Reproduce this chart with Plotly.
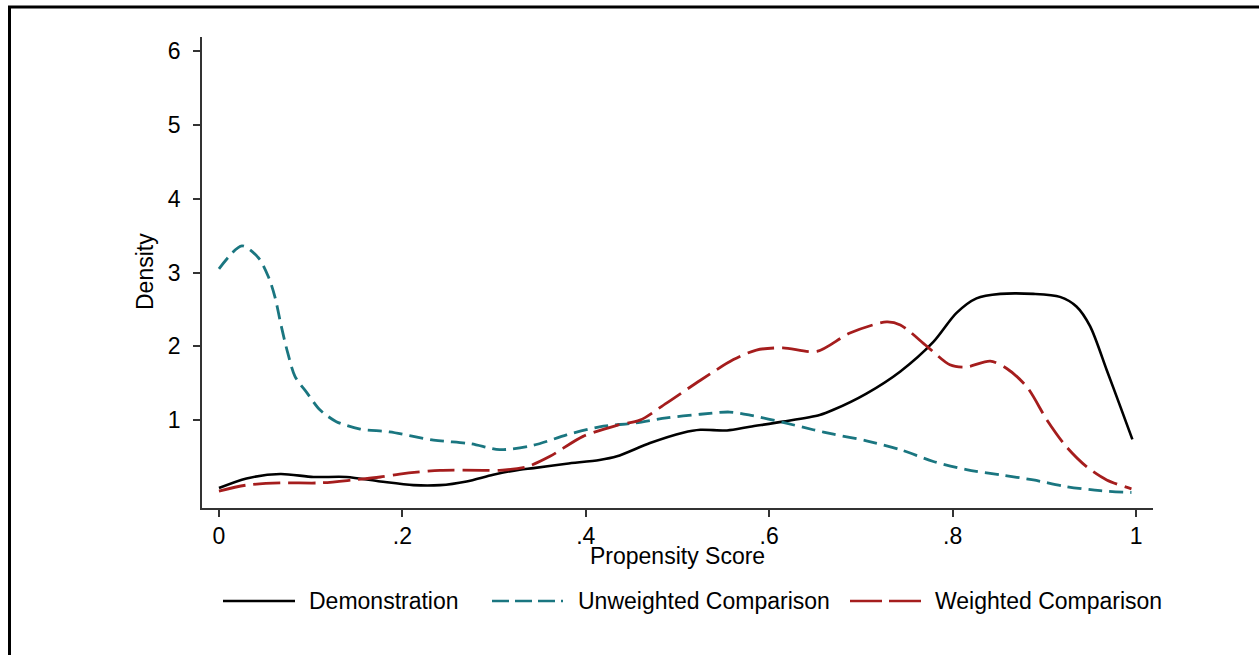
import plotly.graph_objects as go

# Kernel density estimates of the propensity score, by group
demo_x = [0, .03, .067, .103, .139, .176, .212, .241, .27, .299, .328, .343, .379, .415,
          .434, .47, .506, .525, .554, .579, .615, .655, .67, .706, .743, .779, .804, .826,
          .852, .888, .917, .935, .95, .968, .983, .996]
demo_y = [.08, .21, .27, .23, .23, .17, .12, .12, .17, .26, .33, .35, .41, .46,
          .51, .69, .83, .87, .86, .91, .98, 1.07, 1.14, 1.36, 1.66, 2.06, 2.45, 2.65,
          2.71, 2.71, 2.67, 2.54, 2.27, 1.68, 1.18, .74]

unw_x = [0, .025, .043, .054, .061, .068, .075, .083, .096, .11, .128, .154, .186, .234,
         .275, .306, .343, .379, .415, .452, .488, .525, .557, .582, .615, .648, .67, .706,
         .743, .779, .815, .852, .888, .924, .961, .995]
unw_y = [3.05, 3.36, 3.2, 2.94, 2.67, 2.27, 1.91, 1.59, 1.37, 1.14, .98, .88, .84, .73,
         .68, .6, .66, .8, .91, .96, 1.03, 1.08, 1.11, 1.06, .97, .87, .81, .72,
         .6, .44, .33, .26, .19, .1, .045, .02]

wtd_x = [0, .03, .067, .11, .146, .176, .197, .241, .288, .306, .336, .361, .397, .434,
         .459, .488, .525, .561, .586, .615, .652, .688, .728, .743, .772, .797, .815, .841,
         .859, .881, .903, .924, .946, .968, .995]
wtd_y = [.04, .12, .15, .15, .19, .23, .27, .32, .32, .32, .37, .51, .78, .93,
         1.0, 1.23, 1.54, 1.82, 1.95, 1.98, 1.93, 2.18, 2.33, 2.29, 2.0, 1.75, 1.72, 1.8,
         1.7, 1.45, 1.0, .64, .37, .19, .07]

series_names = ["Demonstration", "Unweighted Comparison", "Weighted Comparison"]
x_ticks = [0, .2, .4, .6, .8, 1]
x_ticktext = ["0", ".2", ".4", ".6", ".8", "1"]
y_ticks = [1, 2, 3, 4, 5, 6]

BLACK = "#000000"
TEAL = "#1a7680"
RED = "#a51d1d"
FONT = "Liberation Sans, Arial, sans-serif"
TXT = 23

W, H = 1259, 655
L, R, T, B = 202, 106, 37, 147
PW, PH = W - L - R, H - T - B


def px_x(p):
    return (p - L) / PW


def px_y(p):
    return (H - B - p) / PH


fig = go.Figure()
fig.add_trace(go.Scatter(x=demo_x, y=demo_y, mode="lines", name=series_names[0],
                         line=dict(color=BLACK, width=2.6, shape="spline", smoothing=0.8)))
fig.add_trace(go.Scatter(x=unw_x, y=unw_y, mode="lines", name=series_names[1],
                         line=dict(color=TEAL, width=2.8, dash="14px,7px",
                                   shape="spline", smoothing=0.8)))
fig.add_trace(go.Scatter(x=wtd_x, y=wtd_y, mode="lines", name=series_names[2],
                         line=dict(color=RED, width=2.8, dash="27px,8px",
                                   shape="spline", smoothing=0.8)))

shapes = []
annotations = []

# Outer frame (top and left edges)
shapes.append(dict(type="line", xref="paper", yref="paper",
                   x0=px_x(8), x1=px_x(W + 5), y0=px_y(7), y1=px_y(7),
                   line=dict(color="black", width=3)))
shapes.append(dict(type="line", xref="paper", yref="paper",
                   x0=px_x(9.5), x1=px_x(9.5), y0=px_y(6), y1=px_y(H + 5),
                   line=dict(color="black", width=3)))

# Legend row
leg_y = px_y(601)
legend_items = [
    (223, 295, 307, BLACK, "solid", series_names[0]),
    (492, 563, 576, TEAL, "17px,6px", series_names[1]),
    (850, 922, 933, RED, "32px,7px", series_names[2]),
]
for x0, x1, xt, col, dash, label in legend_items:
    shapes.append(dict(type="line", xref="paper", yref="paper",
                       x0=px_x(x0), x1=px_x(x1), y0=leg_y, y1=leg_y,
                       line=dict(color=col, width=2.5, dash=dash)))
    annotations.append(dict(text=label, xref="paper", yref="paper", x=px_x(xt), y=leg_y,
                            xanchor="left", yanchor="middle", showarrow=False,
                            font=dict(family=FONT, size=TXT, color="black")))

# Axis titles
annotations.append(dict(text="Propensity Score", xref="paper", yref="paper",
                        x=px_x(677.5), y=px_y(556), xanchor="center", yanchor="middle",
                        showarrow=False, font=dict(family=FONT, size=TXT, color="black")))
annotations.append(dict(text="Density", xref="paper", yref="paper",
                        x=px_x(145), y=px_y(272), xanchor="center", yanchor="middle",
                        textangle=-90, showarrow=False,
                        font=dict(family=FONT, size=TXT, color="black")))

fig.update_layout(
    width=W, height=H,
    margin=dict(l=L, r=R, t=T, b=B, pad=0),
    paper_bgcolor="white", plot_bgcolor="white",
    showlegend=False,
    font=dict(family=FONT, size=TXT, color="black"),
    shapes=shapes, annotations=annotations,
    xaxis=dict(range=[-0.0185, 1.0185], tickvals=x_ticks, ticktext=x_ticktext,
               showgrid=False, zeroline=False, showline=True, linecolor="#333333",
               linewidth=1.6, ticks="outside", ticklen=7, tickwidth=1.5,
               tickcolor="#333333", ticklabelstandoff=0,
               tickfont=dict(family=FONT, size=TXT, color="black")),
    yaxis=dict(range=[-0.19, 6.19], tickvals=y_ticks,
               showgrid=False, zeroline=False, showline=True, linecolor="#333333",
               linewidth=1.6, ticks="outside", ticklen=7, tickwidth=1.5,
               tickcolor="#333333", ticklabelstandoff=8,
               tickfont=dict(family=FONT, size=TXT, color="black")),
)

fig.write_html("out.html")
